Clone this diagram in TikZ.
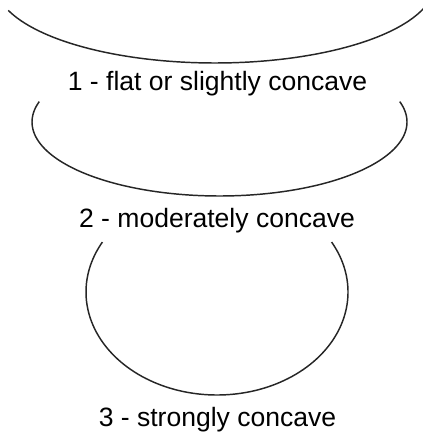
\documentclass[tikz,border=0pt]{standalone}
\usepackage{fontspec}
\setmainfont{Liberation Sans}
\usetikzlibrary{positioning}

\begin{document}
\begin{tikzpicture}[
		x=0.75pt, y=-0.75pt,
		rim/.style={line width=1.1pt, draw=black!85, smooth, samples=120},
		caption/.style={font=\fontsize{19.9}{24}\selectfont, anchor=base, inner sep=0pt}
		]
		\useasboundingbox (0,0) rectangle (423,434);
		% the three curves, as parts of ellipses
		\draw[rim] plot[domain=16:160] ({215+220*cos(\x)}, {-17+80*sin(\x)});
		\draw[rim] plot[domain=-16:196] ({219.5+187.5*cos(\x)}, {122+74*sin(\x)});
		\draw[rim] plot[domain=-29:209] ({217+131*cos(\x)}, {292+103*sin(\x)});
		\node[caption] (l_1) at (217.5,91) {1 - flat or slightly concave};
		\node[caption] (l_2) at (217,227.5) {2 - moderately concave};
		\node[caption] (l_3) at (217.5,426) {3 - strongly concave};
\end{tikzpicture}
\end{document}
